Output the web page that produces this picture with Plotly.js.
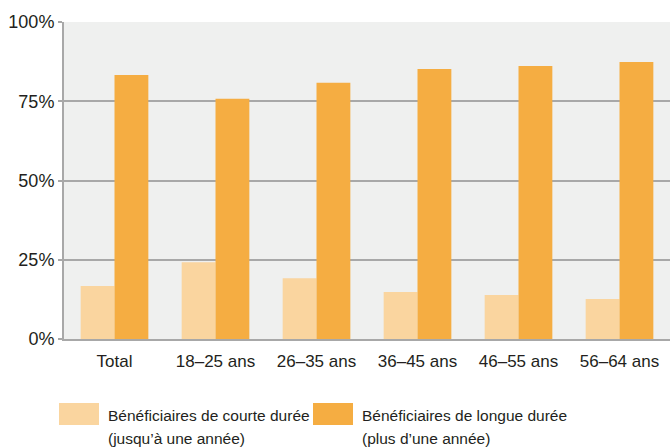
<!DOCTYPE html>
<html>
<head>
<meta charset="utf-8">
<script src="https://cdn.plot.ly/plotly-3.0.1.min.js"></script>
<style>
  html, body { margin: 0; padding: 0; background: #fff; }
  #chart { width: 670px; height: 447px; }
</style>
</head>
<body>
<div id="chart"></div>
<script>
const categories = ['Total', '18–25 ans', '26–35 ans', '36–45 ans', '46–55 ans', '56–64 ans'];
const shortTerm = [16.7, 24.2, 19.2, 14.8, 13.9, 12.6];
const longTerm = [83.3, 75.8, 80.8, 85.2, 86.1, 87.4];
const seriesNames = ['Bénéficiaires de courte durée', 'Bénéficiaires de longue durée'];
const seriesNotes = ['(jusqu’à une année)', '(plus d’une année)'];
const yTicks = [0, 25, 50, 75, 100];
const yTickLabels = ['0%', '25%', '50%', '75%', '100%'];

const FONT = '"Liberation Sans", Arial, sans-serif';
const TEXT_COLOR = '#231f20';
const COLORS = ['#fad59f', '#f5ad42'];
const GRID = '#a8a8a8';

const traces = [
    { type: 'bar', x: categories, y: shortTerm, name: seriesNames[0], marker: { color: COLORS[0] }, hoverinfo: 'none' },
    { type: 'bar', x: categories, y: longTerm, name: seriesNames[1], marker: { color: COLORS[1] }, hoverinfo: 'none' }
];

// legend drawn by hand so the swatches can be large rectangles
// pixel helpers: plot area is x 64..670, y 22..339
const px = x => (x - 64) / 606;
const py = y => (339 - y) / 317;
const legendX = [59, 313];
const shapes = [];
const annotations = [];
seriesNames.forEach((name, i) => {
    shapes.push({
        type: 'rect', xref: 'paper', yref: 'paper',
        x0: px(legendX[i]), x1: px(legendX[i] + 40),
        y0: py(425), y1: py(403),
        fillcolor: COLORS[i], line: { width: 0 }
    });
    [name, seriesNotes[i]].forEach((line, j) => {
        annotations.push({
            xref: 'paper', yref: 'paper',
            x: px(legendX[i] + 47), y: py(415 + j * 23),
            xanchor: 'left', yanchor: 'middle', align: 'left',
            text: line, showarrow: false,
            font: { family: FONT, size: 15.5, color: TEXT_COLOR }
        });
    });
});

const layout = {
    width: 670, height: 447,
    margin: { l: 64, r: 0, t: 22, b: 108 },
    paper_bgcolor: '#ffffff',
    plot_bgcolor: '#eff0ef',
    barmode: 'group',
    bargap: 0.33,
    bargroupgap: 0,
    showlegend: false,
    font: { family: FONT, size: 17, color: TEXT_COLOR },
    xaxis: {
        showgrid: false, showline: true, linecolor: GRID, linewidth: 2,
        ticks: '', ticklabelstandoff: 6,
        tickfont: { family: FONT, size: 17, color: TEXT_COLOR },
        fixedrange: true
    },
    yaxis: {
        range: [0, 100], tickvals: yTicks, ticktext: yTickLabels,
        showgrid: true, gridcolor: GRID, gridwidth: 2,
        showline: true, linecolor: GRID, linewidth: 2,
        ticks: 'outside', ticklen: 4, tickwidth: 2, tickcolor: GRID,
        tickfont: { family: FONT, size: 18, color: TEXT_COLOR },
        zeroline: false, fixedrange: true
    },
    shapes: shapes,
    annotations: annotations
};

Plotly.newPlot('chart', traces, layout, { displayModeBar: false, staticPlot: true });
</script>
</body>
</html>
